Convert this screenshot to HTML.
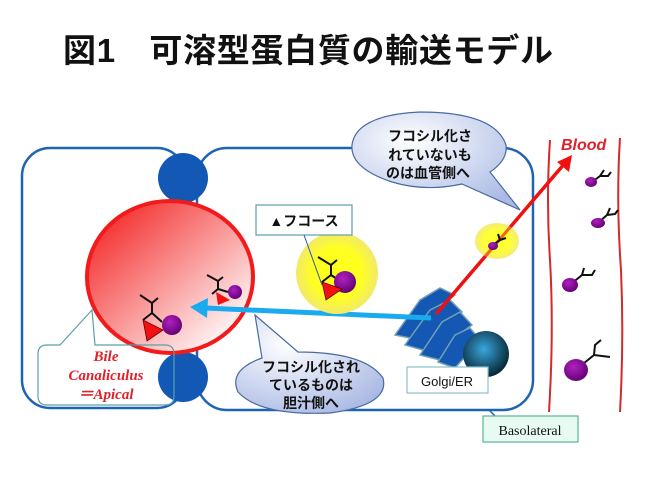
<!DOCTYPE html>
<html><head><meta charset="utf-8"><style>
html,body{margin:0;padding:0;background:#fff;}
svg{display:block;}
text{font-family:"Liberation Sans","Noto Sans CJK JP",sans-serif;}
</style></head><body>
<svg width="649" height="487" viewBox="0 0 649 487" xmlns="http://www.w3.org/2000/svg">
<defs>
<linearGradient id="rg" x1="0" y1="0" x2="1" y2="1">
<stop offset="0.1" stop-color="#f42c2c"/><stop offset="0.9" stop-color="#ffffff"/></linearGradient>
<radialGradient id="yg"><stop offset="0.6" stop-color="#ffff20"/><stop offset="1" stop-color="#f2ea6a"/></radialGradient>
<radialGradient id="cg" cx="0.35" cy="0.3" r="0.8"><stop offset="0" stop-color="#ffffff"/><stop offset="1" stop-color="#a9b9e4"/></radialGradient>
<radialGradient id="dg" cx="0.45" cy="0.4" r="0.6"><stop offset="0" stop-color="#3aa6dc"/><stop offset="1" stop-color="#062634"/></radialGradient>
<radialGradient id="pg" cx="0.4" cy="0.35" r="0.7"><stop offset="0" stop-color="#b020c0"/><stop offset="1" stop-color="#600070"/></radialGradient>
</defs>
<text x="63" y="62" font-size="33" font-weight="bold" textLength="490" fill="#111">図1　可溶型蛋白質の輸送モデル</text>

<rect x="22" y="148" width="163" height="260" rx="28" fill="none" stroke="#1e64b4" stroke-width="2.5"/>
<rect x="197" y="148" width="336" height="262" rx="30" fill="none" stroke="#1e64b4" stroke-width="2.5"/>
<circle cx="183" cy="178" r="25" fill="#1258b4"/>
<circle cx="183" cy="377" r="25" fill="#1258b4"/>
<ellipse cx="170" cy="277" rx="83" ry="76" fill="url(#rg)" stroke="#f21a1a" stroke-width="4"/>

<path d="M550 140 Q546 200 550 260 Q554 330 549 412" fill="none" stroke="#d42a2a" stroke-width="2"/>
<path d="M620 138 Q616 200 621 270 Q624 340 620 412" fill="none" stroke="#d42a2a" stroke-width="2"/>
<text x="561" y="150" font-size="16" font-weight="bold" font-style="italic" fill="#e0202a">Blood</text>

<g fill="#1558b4" stroke="#6fa0b4" stroke-width="1.5">
<path d="M395 335 L420 300 L440 288 L455 295 L448 300 L420 340 Z"/>
<path d="M405 345 L430 310 L450 300 L462 312 L455 318 L430 352 Z"/>
<path d="M420 355 L442 322 L460 312 L472 325 L465 330 L440 360 Z"/>
<path d="M438 362 L455 335 L470 328 L480 340 L455 368 Z"/>
</g>
<circle cx="486" cy="354" r="23" fill="url(#dg)"/>

<line x1="431" y1="318" x2="205" y2="308" stroke="#1aaaf0" stroke-width="5"/>
<polygon points="190,307 208,298 207,318" fill="#1aaaf0"/>
<line x1="436" y1="314" x2="565" y2="163" stroke="#f01010" stroke-width="3.5"/>
<polygon points="572,155 569,172 557,162" fill="#f01010"/>

<circle cx="337" cy="273" r="41" fill="url(#yg)"/>
<ellipse cx="497" cy="241" rx="22" ry="18" fill="url(#yg)" opacity="0.9"/>
<line x1="436" y1="314" x2="565" y2="163" stroke="#f01010" stroke-width="3" opacity="0.6"/>

<g stroke="#111" stroke-width="2" fill="none">
<path d="M318 257 L331 265 L331 275 M331 265 L337 260 M331 275 L322 282 M331 275 L340 281"/>
<path d="M140 295 L152 303 L152 313 M152 303 L158 298 M152 313 L143 320 M152 313 L162 322"/>
<path d="M207 275 L218 281 L218 289 M218 281 L223 277 M218 289 L212 294 M218 289 L228 292"/>
<path d="M493 245 L500 240 M500 240 L498 234 M500 240 L506 238"/>
<path d="M592 182 L600 176 L604 170 M600 176 L608 176 L611 172"/>
<path d="M599 222 L607 215 L610 208 M607 215 L615 214 L618 210"/>
<path d="M571 284 L582 275 L584 268 M582 275 L592 275 L595 270"/>
<path d="M578 368 L594 355 L595 345 L601 340 M594 355 L610 357"/>
</g>
<ellipse cx="345" cy="282" rx="11" ry="11" fill="url(#pg)"/>
<polygon points="322,282 342,289 326,300" fill="#f21010" stroke="#600" stroke-width="0.8"/>
<circle cx="172" cy="325" r="10" fill="url(#pg)"/>
<polygon points="143,320 163,330 147,341" fill="#f21010" stroke="#600" stroke-width="0.8"/>
<circle cx="235" cy="292" r="7" fill="url(#pg)"/>
<polygon points="216,292 230,300 218,305" fill="#f21010"/>
<ellipse cx="493" cy="246" rx="5" ry="4" fill="url(#pg)"/>
<ellipse cx="591" cy="182" rx="6" ry="5" fill="url(#pg)"/>
<ellipse cx="598" cy="223" rx="7" ry="5" fill="url(#pg)"/>
<ellipse cx="570" cy="285" rx="8" ry="7" fill="url(#pg)"/>
<ellipse cx="576" cy="370" rx="12" ry="11" fill="url(#pg)"/>

<path d="M392 182 Q350 168 352 145 Q356 115 420 112 Q495 112 506 145 Q508 160 490 172 L520 210 L462 184 Q425 192 392 182 Z" fill="url(#cg)" stroke="#4a6aa0" stroke-width="1.2"/>
<text font-size="14" font-weight="bold" fill="#111" text-anchor="middle"><tspan x="430" y="141">フコシル化さ</tspan><tspan x="430" y="160">れていないも</tspan><tspan x="428" y="178">のは血管側へ</tspan></text>
<path d="M255 315 L298 352 Q365 352 383 378 Q390 405 330 413 Q260 416 238 392 Q228 370 262 358 Z" fill="url(#cg)" stroke="#4a6aa0" stroke-width="1.2"/>
<text font-size="14" font-weight="bold" fill="#111" text-anchor="middle"><tspan x="311" y="372">フコシル化され</tspan><tspan x="311" y="390">ているものは</tspan><tspan x="311" y="408">胆汁側へ</tspan></text>

<rect x="256" y="205" width="96" height="30" fill="#fff" stroke="#5aa0a8" stroke-width="1.2"/>
<text x="304" y="226" font-size="14" font-weight="bold" text-anchor="middle" fill="#111">▲フコース</text>
<line x1="304" y1="235" x2="322" y2="285" stroke="#2a5aa8" stroke-width="1"/>
<rect x="407" y="367" width="81" height="26" fill="#fff" stroke="#8ac0c8" stroke-width="1.2"/>
<text x="447" y="386" font-size="13" text-anchor="middle" fill="#111">Golgi/ER</text>
<path d="M489 410 L497 418" stroke="#1e64b4" stroke-width="1.5"/>
<rect x="483" y="416" width="95" height="26" fill="#e8fbf2" stroke="#5ab49a" stroke-width="1.2"/>
<text x="530" y="435" font-size="14" text-anchor="middle" fill="#111" style="font-family:'Liberation Serif',serif">Basolateral</text>
<path d="M60 345 L92 310 L95 345 L165 345 Q174 345 174 354 L174 396 Q174 405 165 405 L47 405 Q38 405 38 396 L38 354 Q38 345 47 345 Z" fill="none" stroke="#5aa0a8" stroke-width="1.2"/>
<text font-size="15" font-weight="bold" font-style="italic" fill="#e0202a" text-anchor="middle" style="font-family:'Liberation Serif',serif"><tspan x="106" y="361">Bile</tspan><tspan x="106" y="380">Canaliculus</tspan><tspan x="106" y="399">＝Apical</tspan></text>
</svg>
</body></html>
